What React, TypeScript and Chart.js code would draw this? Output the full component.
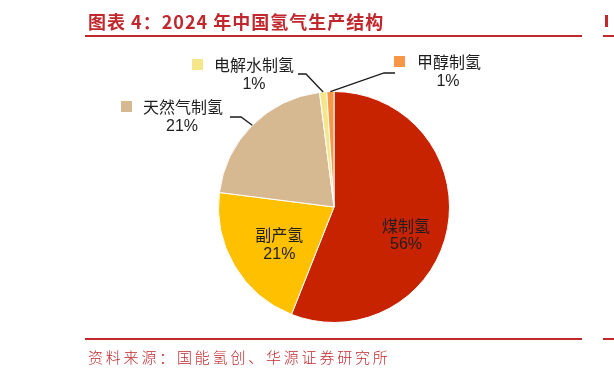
import React, { useEffect, useRef } from "react";
import { Chart, registerables } from "chart.js";

Chart.register(...registerables);

const categories = ["煤制氢", "副产氢", "天然气制氢", "电解水制氢", "甲醇制氢"];
const shares = [56, 21, 21, 1, 1];
const colors = ["#C82300", "#FFC000", "#D6B891", "#F6E68A", "#F79646"];
const titleText = "图表 4：2024 年中国氢气生产结构";
const sourceText = "资料来源：国能氢创、华源证券研究所";

const CJK = '"Noto Sans CJK SC", "Noto Sans", sans-serif';
const MIX = '"Liberation Sans", "Noto Sans CJK SC", sans-serif';
const RED = "#C0282D";

// label layout (positions only)
const innerLayout: Record<number, { fr: number; dx: number; dy: number }> = {
  0: { fr: 0.6, dx: 4, dy: 15 },
  1: { fr: 0.6, dx: 5, dy: 2 },
};
const outerLayout: Record<
  number,
  { box: [number, number]; textX: number; textY: number; pctX: number; pctY: number; elbow: [number, number]; end: [number, number] }
> = {
  2: { box: [121, 101], textX: 143, textY: 107, pctX: 182, pctY: 127, elbow: [241, 117], end: [230, 117] },
  3: { box: [192, 59], textX: 214, textY: 65, pctX: 254, pctY: 85, elbow: [306, 74], end: [298, 74] },
  4: { box: [394, 56], textX: 417, textY: 62, pctX: 448, pctY: 82, elbow: [384, 73], end: [395, 73] },
};

const labelPlugin = {
  id: "pieLabels",
  afterDraw(chart: any) {
    const ctx = chart.ctx as CanvasRenderingContext2D;
    const meta = chart.getDatasetMeta(0);
    const data = chart.data.datasets[0].data as number[];
    const total = data.reduce((a, b) => a + b, 0);
    ctx.save();
    meta.data.forEach((arc: any, i: number) => {
      const { x, y, startAngle, endAngle, outerRadius } = arc.getProps(
        ["x", "y", "startAngle", "endAngle", "outerRadius"],
        true
      );
      const mid = (startAngle + endAngle) / 2;
      const pct = Math.round((data[i] / total) * 100) + "%";
      const name = chart.data.labels[i];
      if (innerLayout[i]) {
        const L = innerLayout[i];
        const cx = x + Math.cos(mid) * outerRadius * L.fr + L.dx;
        const cy = y + Math.sin(mid) * outerRadius * L.fr + L.dy;
        ctx.fillStyle = "#1e1e1e";
        ctx.textAlign = "center";
        ctx.textBaseline = "middle";
        ctx.font = `16px ${CJK}`;
        ctx.fillText(name, cx, cy - 9.5);
        ctx.font = `16px ${MIX}`;
        ctx.fillText(pct, cx, cy + 10);
      } else if (outerLayout[i]) {
        const L = outerLayout[i];
        const ex = x + Math.cos(mid) * outerRadius;
        const ey = y + Math.sin(mid) * outerRadius;
        ctx.strokeStyle = "#1a1a1a";
        ctx.lineWidth = 1.3;
        ctx.beginPath();
        ctx.moveTo(ex, ey);
        ctx.lineTo(L.elbow[0], L.elbow[1]);
        ctx.lineTo(L.end[0], L.end[1]);
        ctx.stroke();
        ctx.fillStyle = colors[i];
        ctx.fillRect(L.box[0], L.box[1], 11, 11);
        ctx.fillStyle = "#1e1e1e";
        ctx.textBaseline = "middle";
        ctx.textAlign = "left";
        ctx.font = `16px ${CJK}`;
        ctx.fillText(name, L.textX, L.textY);
        ctx.textAlign = "center";
        ctx.font = `16px ${MIX}`;
        ctx.fillText(pct, L.pctX, L.pctY);
      }
    });
    ctx.restore();
  },
};

function PieChart() {
  const ref = useRef<HTMLCanvasElement | null>(null);
  useEffect(() => {
    if (!ref.current) return;
    const chart = new Chart(ref.current, {
      type: "pie",
      data: {
        labels: categories,
        datasets: [
          {
            data: shares,
            backgroundColor: colors,
            borderColor: "#ffffff",
            borderWidth: 1,
          },
        ],
      },
      options: {
        responsive: false,
        animation: false,
        layout: { padding: { left: 218, right: 164, top: 91, bottom: 55 } },
        plugins: { legend: { display: false }, tooltip: { enabled: false } },
      },
      plugins: [labelPlugin],
    });
    return () => chart.destroy();
  }, []);
  return <canvas ref={ref} width={614} height={378} style={{ position: "absolute", left: 0, top: 0 }} />;
}

export default function App() {
  return (
    <div style={{ position: "fixed", left: 0, top: 0, width: 614, height: 378, background: "#fff", overflow: "hidden" }}>
      <PieChart />
      <div
        style={{
          position: "absolute",
          left: 88,
          top: 9,
          fontFamily: CJK,
          fontWeight: 700,
          fontSize: 18,
          letterSpacing: 1,
          color: RED,
          whiteSpace: "nowrap",
          lineHeight: "24px",
        }}
      >
        {titleText}
      </div>
      <div style={{ position: "absolute", left: 85, top: 35, width: 497, height: 2, background: RED }} />
      <div style={{ position: "absolute", left: 603, top: 35, width: 11, height: 2, background: RED }} />
      <div style={{ position: "absolute", left: 605, top: 15, width: 3, height: 12, background: RED }} />
      <div style={{ position: "absolute", left: 85, top: 338, width: 497, height: 2, background: RED }} />
      <div style={{ position: "absolute", left: 603, top: 338, width: 11, height: 2, background: RED }} />
      <div
        style={{
          position: "absolute",
          left: 88,
          top: 346,
          fontFamily: CJK,
          fontWeight: 300,
          fontSize: 15,
          letterSpacing: 2.8,
          color: RED,
          whiteSpace: "nowrap",
          lineHeight: "22px",
        }}
      >
        {sourceText}
      </div>
    </div>
  );
}
